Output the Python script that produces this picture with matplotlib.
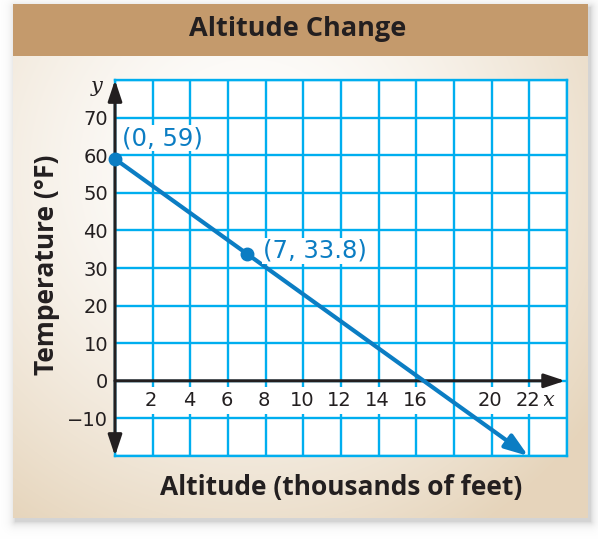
import numpy as np
import matplotlib
matplotlib.use("Agg")
import matplotlib.pyplot as plt

# ---- data ----
points_x = [0, 7]
points_y = [59, 33.8]
point_labels = ["(0, 59)", "(7, 33.8)"]
x_tick_vals = [2, 4, 6, 8, 10, 12, 14, 16, 20, 22]
y_tick_vals = [70, 60, 50, 40, 30, 20, 10, 0, -10]
x_min, x_max = 0, 24
y_min, y_max = -20, 80
title = "Altitude Change"
xlabel = "Altitude (thousands of feet)"
ylabel = "Temperature (°F)"

W, H = 598, 539
fig = plt.figure(figsize=(W / 100, H / 100), dpi=100)

# ---- background panel with gradient, title bar, shadow ----
yy, xx = np.mgrid[0:H, 0:W].astype(float)
px0, px1, py0, py1 = 13, 587, 4, 517
img = np.ones((H, W, 3))
sx0, sx1, sy0, sy1 = px0 + 2, px1 + 3, py0 + 3, py1 + 4
dx = np.maximum.reduce([sx0 - xx, np.zeros_like(xx), xx - sx1])
dy = np.maximum.reduce([sy0 - yy, np.zeros_like(yy), yy - sy1])
d = np.sqrt(dx ** 2 + dy ** 2)
sh = 0.30 * np.exp(-d / 4.0)
gray = np.array([0.45, 0.45, 0.45])
img = img * (1 - sh[..., None]) + gray * sh[..., None]
inside = (xx >= px0) & (xx <= px1) & (yy >= py0) & (yy <= py1)
beige = np.array([0.902, 0.835, 0.737])
r = np.sqrt(((xx - 250) / 420) ** 2 + ((yy - 170) / 420) ** 2)
t = np.clip(r, 0, 1) ** 1.6
grad = (1 - t[..., None]) * np.array([1, 1, 1]) + t[..., None] * beige
img[inside] = grad[inside]
bar = inside & (yy <= 55)
img[bar] = np.array([0.769, 0.604, 0.424])

bg = fig.add_axes([0, 0, 1, 1], zorder=-5)
bg.imshow(img, extent=[0, W, H, 0], aspect="auto", interpolation="bilinear")
bg.set_xlim(0, W)
bg.set_ylim(H, 0)
bg.axis("off")

fig.text(298 / W, 1 - 29 / H, title, ha="center", va="center",
         fontsize=19.5, fontweight="bold", family="Open Sans", color="#231f20")

# ---- main axes ----
left, right, top, bottom = 115, 567, 80, 456
ax = fig.add_axes([left / W, 1 - bottom / H, (right - left) / W, (bottom - top) / H])
ax.set_facecolor("white")
ax.set_xlim(x_min, x_max)
ax.set_ylim(y_min, y_max)
grid_c = "#00aeef"
ax.set_xticks(np.arange(x_min, x_max + 1, 2))
ax.set_yticks(np.arange(y_min, y_max + 1, 10))
ax.grid(True, color=grid_c, lw=1.7)
for s in ax.spines.values():
    s.set_color(grid_c)
    s.set_linewidth(1.7)
ax.tick_params(length=0, labelbottom=False)
ylabs = [str(v).replace("-", "\u2212") if v in y_tick_vals else "" for v in np.arange(y_min, y_max + 1, 10)]
ax.set_yticklabels(ylabs, family="DejaVu Sans", fontsize=14, color="#231f20")
ax.tick_params(axis="y", pad=5)

for v in x_tick_vals:
    ax.annotate(str(v), xy=(v, 0), xytext=(-1, -14), textcoords="offset points",
                ha="center", va="center", family="DejaVu Sans", fontsize=14, color="#231f20",
                bbox=dict(boxstyle="square,pad=0.2", fc="white", ec="none"), zorder=4)

ax.annotate("x", xy=(x_max, 0), xytext=(-13, -14), textcoords="offset points",
            ha="center", va="center", family="DejaVu Serif", style="italic",
            fontsize=15, color="#231f20", annotation_clip=False)
ax.annotate("y", xy=(0, y_max), xytext=(-13, -5), textcoords="offset points",
            ha="center", va="center", family="DejaVu Serif", style="italic",
            fontsize=15, color="#231f20", annotation_clip=False)

axis_c = "#231f20"
ax.annotate("", xy=(x_max - 0.1, 0), xytext=(0, 0),
            arrowprops=dict(arrowstyle="-|>,head_length=0.9,head_width=0.3", color=axis_c,
                            lw=2.2, shrinkA=0, shrinkB=0, mutation_scale=14),
            annotation_clip=False, zorder=5)
ax.annotate("", xy=(0, y_max), xytext=(0, y_min),
            arrowprops=dict(arrowstyle="<|-|>,head_length=0.9,head_width=0.3", color=axis_c,
                            lw=2.2, shrinkA=0, shrinkB=0, mutation_scale=14),
            annotation_clip=False, zorder=5)

line_c = "#0b7dc3"
slope = (points_y[1] - points_y[0]) / (points_x[1] - points_x[0])
x_end = points_x[0] + (y_min - points_y[0]) / slope
ax.annotate("", xy=(x_end, y_min), xytext=(points_x[0], points_y[0]),
            arrowprops=dict(arrowstyle="-|>,head_length=1.0,head_width=0.35", color=line_c,
                            lw=3, shrinkA=0, shrinkB=0, mutation_scale=14),
            annotation_clip=False, zorder=6)
ax.plot(points_x, points_y, "o", color=line_c, ms=9, zorder=7, clip_on=False)

offsets = [(5, 15), (11.5, 2)]
for px, py, lab, off in zip(points_x, points_y, point_labels, offsets):
    ax.annotate(lab, xy=(px, py), xytext=off, textcoords="offset points",
                ha="left", va="center", family="DejaVu Sans", fontsize=17.5, color=line_c,
                bbox=dict(boxstyle="square,pad=0.05", fc="white", ec="none"), zorder=8)

fig.text(341 / W, 1 - 487 / H, xlabel, ha="center", va="center",
         fontsize=19, fontweight="bold", family="Open Sans", color="#231f20")
fig.text(47 / W, 1 - 265 / H, ylabel, ha="center", va="center", rotation=90,
         fontsize=19, fontweight="bold", family="Open Sans", color="#231f20")

fig.savefig("out.png", dpi=100)
